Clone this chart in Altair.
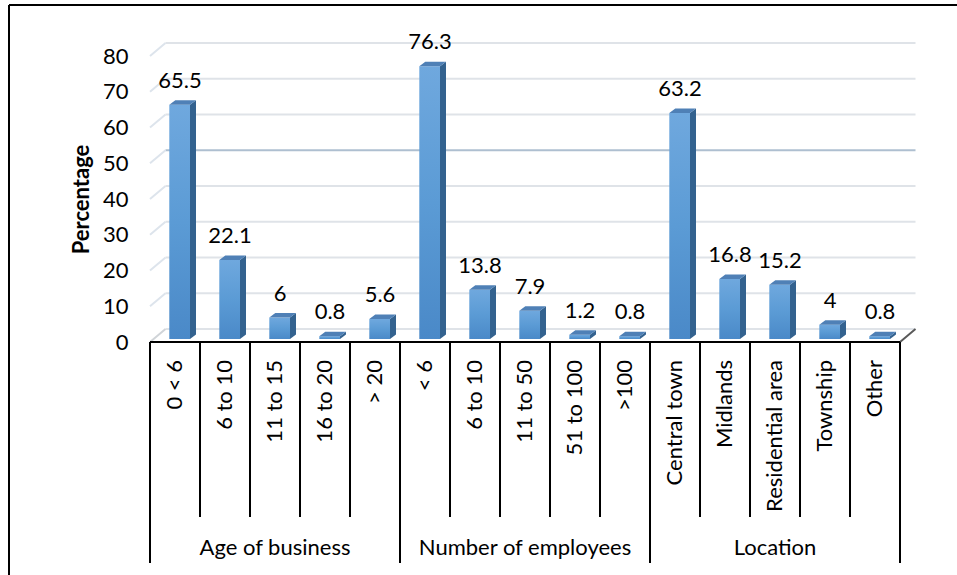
import altair as alt
import pandas as pd

# ---- data ----
categories = ["0 < 6", "6 to 10", "11 to 15", "16 to 20", "> 20",
              "< 6", "6 to 10", "11 to 50", "51 to 100", ">100",
              "Central town", "Midlands", "Residential area", "Township", "Other"]
values = [65.5, 22.1, 6, 0.8, 5.6,
          76.3, 13.8, 7.9, 1.2, 0.8,
          63.2, 16.8, 15.2, 4, 0.8]
group_names = ["Age of business", "Number of employees", "Location"]
group_sizes = [5, 5, 5]
y_ticks = [0, 10, 20, 30, 40, 50, 60, 70, 80]

# ---- style / geometry constants (not data) ----
FONT = "Lato"
FS = 22
W, H = 750, 286            # plot area in px
PX_PER_UNIT = H / 80.0
FX0, FX1 = 0.386, 0.80     # bar front face inside each category slot
BDX = 0.12                 # bar depth, x units
BDY = 4.5 / PX_PER_UNIT    # bar depth, y units
BASE = 3.0 / PX_PER_UNIT   # bars stand at mid depth of the floor
WDX = 0.31                 # back wall offset, x units
WDY = 13.0 / PX_PER_UNIT   # back wall offset, y units

n = len(categories)
idx = list(range(n))

bars = pd.DataFrame({
    "i": idx, "cat": categories, "v": values,
    "x0": [i + FX0 for i in idx], "x1": [i + FX1 for i in idx],
    "y0": [BASE] * n, "y1": [v + BASE for v in values],
    "xl": [i + 0.6 for i in idx],
})

side_rows, top_rows = [], []
for i, v in zip(idx, values):
    side_rows.append({"i": i, "x": i + FX1, "lo": BASE, "hi": v + BASE})
    side_rows.append({"i": i, "x": i + FX1 + BDX, "lo": BASE + BDY, "hi": v + BASE + BDY})
    top_rows.append({"i": i, "y": v + BASE, "xa": i + FX0, "xb": i + FX1})
    top_rows.append({"i": i, "y": v + BASE + BDY, "xa": i + FX0 + BDX, "xb": i + FX1 + BDX})
side = pd.DataFrame(side_rows)
top = pd.DataFrame(top_rows)

grid = pd.DataFrame({
    "v": y_ticks,
    "yb": [t + WDY for t in y_ticks],
    "xs": [0.0] * len(y_ticks), "xb": [WDX] * len(y_ticks), "xe": [n + WDX] * len(y_ticks),
    "xf": [float(n)] * len(y_ticks),
})

bounds = []
pos = 0
for s in group_sizes:
    bounds.append(pos)
    pos += s
bounds.append(pos)
minor = pd.DataFrame({"x": [i for i in range(n + 1) if i not in bounds]})
major = pd.DataFrame({"x": bounds})
gcent = pd.DataFrame({"name": group_names,
                      "x": [(bounds[k] + bounds[k + 1]) / 2 for k in range(len(group_names))]})
cats = pd.DataFrame({"cat": categories, "x": [i + 0.5 for i in idx]})

xs = alt.Scale(domain=[0, n], nice=False, zero=False)
ys = alt.Scale(domain=[0, 80], nice=False, zero=True)
YAX = alt.Axis(
    values=y_ticks, domain=False, ticks=False, grid=False,
    labelPadding=22, labelFont=FONT, labelFontSize=FS, labelColor="#000",
    title="Percentage", titleFont=FONT, titleFontSize=22,
    titleFontWeight="bold", titleColor="#000", titleAngle=270,
    titleX=-69, titleY=143, titleAlign="center", titleBaseline="middle")


def X(f):
    return alt.X(f, scale=xs, axis=None)


def Y(f):
    return alt.Y(f, scale=ys, axis=YAX)


# ---- back wall grid + y axis (labels at the front plane) ----
axis_layer = alt.Chart(grid).mark_point(opacity=0).encode(x=X("xs:Q"), y=Y("v:Q"))
grid_lines = alt.Chart(grid).mark_rule(strokeWidth=2).encode(
    x=X("xb:Q"), x2="xe:Q", y=Y("yb:Q"),
    color=alt.condition(alt.datum.v == 50, alt.value("#aebfd0"), alt.value("#dfe3e8")),
)
stubs = alt.Chart(grid).mark_rule(strokeWidth=2).encode(
    x=X("xs:Q"), x2="xb:Q", y=Y("v:Q"), y2="yb:Q",
    color=alt.condition(alt.datum.v == 0, alt.value("#d0d4d8"), alt.value("#dde4ec")),
)
right_edge = alt.Chart(grid[grid.v == 0]).mark_rule(strokeWidth=2, color="#595959").encode(
    x=X("xf:Q"), x2="xe:Q", y=Y("v:Q"), y2="yb:Q",
)

# ---- 3D bars ----
front = alt.Chart(bars).mark_bar(
    color=alt.Gradient(gradient="linear", x1=0, y1=0, x2=0, y2=1,
                       stops=[alt.GradientStop(color="#6fa8de", offset=0),
                              alt.GradientStop(color="#5b9bd5", offset=0.5),
                              alt.GradientStop(color="#4a89c8", offset=1)])
).encode(x=X("x0:Q"), x2="x1:Q", y=Y("y0:Q"), y2="y1:Q")
side_face = alt.Chart(side).mark_area(color="#33628f", opacity=1).encode(
    x=X("x:Q"), y=Y("lo:Q"), y2="hi:Q", detail="i:N",
)
top_face = alt.Chart(top).mark_area(color="#4f80b6", orient="horizontal", opacity=1).encode(
    y=Y("y:Q"), x=X("xa:Q"), x2="xb:Q", detail="i:N",
)
labels = alt.Chart(bars).mark_text(font=FONT, fontSize=FS, color="#000", baseline="middle", dy=-24).encode(
    x=X("xl:Q"), y=Y("y1:Q"), text=alt.Text("v:Q", format="~g"),
)

# ---- category table below ----
front_line = alt.Chart(major[major.x == 0]).mark_rule(strokeWidth=2, color="#000").encode(
    x=X("x:Q"), x2=alt.value(W), y=alt.value(H),
)
minor_lines = alt.Chart(minor).mark_rule(strokeWidth=2, color="#000").encode(
    x=X("x:Q"), y=alt.value(H), y2=alt.value(H + 175),
)
major_lines = alt.Chart(major).mark_rule(strokeWidth=2, color="#000").encode(
    x=X("x:Q"), y=alt.value(H), y2=alt.value(H + 221),
)
cat_text = alt.Chart(cats).mark_text(font=FONT, fontSize=FS, color="#000", angle=270,
                                     align="right", baseline="middle").encode(
    x=X("x:Q"), y=alt.value(H + 18), text="cat:N",
)
group_text = alt.Chart(gcent).mark_text(font=FONT, fontSize=FS, color="#000",
                                        baseline="middle").encode(
    x=X("x:Q"), y=alt.value(H + 206), text="name:N",
)

# ---- outer frame ----
frame_top = alt.Chart(major[major.x == 0]).mark_rule(strokeWidth=2, color="#000").encode(
    x=alt.value(-141), x2=alt.value(W + 60), y=alt.value(-51),
)
frame_left = alt.Chart(major[major.x == 0]).mark_rule(strokeWidth=2, color="#000").encode(
    x=alt.value(-141), y=alt.value(-51), y2=alt.value(H + 240),
)

chart = alt.layer(
    axis_layer, grid_lines, stubs, right_edge,
    front, side_face, top_face, labels,
    front_line, minor_lines, major_lines, cat_text, group_text,
    frame_top, frame_left,
).properties(
    width=W, height=H,
    autosize=alt.AutoSizeParams(type="none"),
    padding={"left": 150, "top": 56, "right": 57, "bottom": 233},
    background="white",
).configure_view(stroke=None)

chart.save("out.html", embed_options={"renderer": "svg", "actions": False})
